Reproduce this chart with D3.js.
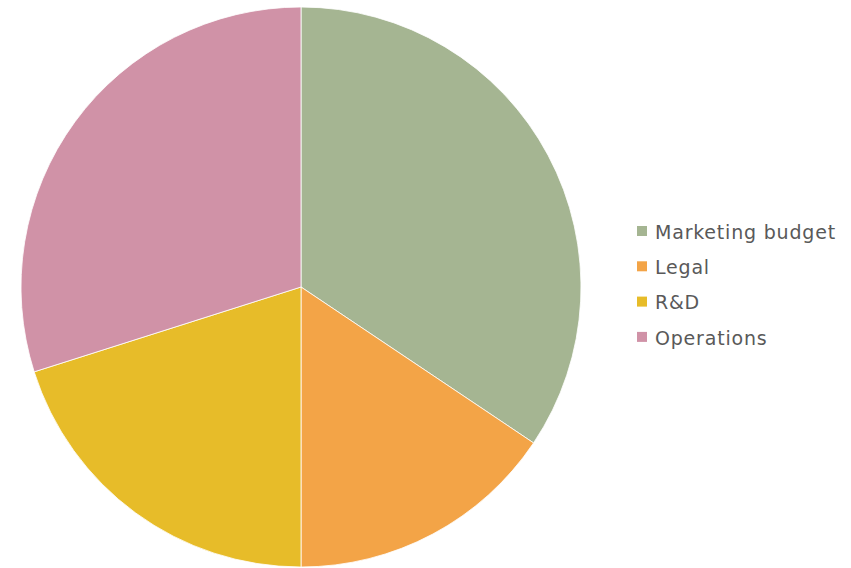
<!DOCTYPE html>
<html>
<head>
<meta charset="utf-8">
<script src="https://cdn.jsdelivr.net/npm/d3@7"></script>
<style>
  html, body { margin: 0; padding: 0; background: #fff; }
  svg { display: block; }
</style>
</head>
<body>
<svg id="chart" width="851" height="568"></svg>
<script>
// Budget split by department (percent)
const categories = ["Marketing budget", "Legal", "R&D", "Operations"];
const values = [34.4, 15.6, 20.1, 29.9];
const colors = ["#A5B592", "#F3A447", "#E7BC29", "#D092A7"];

const svg = d3.select("#chart");
const cx = 301, cy = 287, radius = 280;

const data = categories.map((c, i) => ({ name: c, value: values[i], color: colors[i] }));

const pie = d3.pie().value(d => d.value).sort(null);
const arc = d3.arc().innerRadius(0).outerRadius(radius);

svg.append("g")
  .attr("transform", `translate(${cx},${cy})`)
  .selectAll("path")
  .data(pie(data))
  .join("path")
  .attr("d", arc)
  .attr("fill", d => d.data.color)
  .attr("stroke", "#ffffff")
  .attr("stroke-width", 0.8);

// Legend
const legend = svg.append("g").attr("transform", "translate(637,231)");
const rowGap = 35.3;
const items = legend.selectAll("g")
  .data(data)
  .join("g")
  .attr("transform", (d, i) => `translate(0,${i * rowGap})`);

items.append("rect")
  .attr("x", 0).attr("y", -5)
  .attr("width", 10).attr("height", 10)
  .attr("fill", d => d.color);

items.append("text")
  .attr("x", 18).attr("y", 0)
  .attr("dy", "0.4em")
  .attr("fill", "#595959")
  .style("font-family", "'DejaVu Sans', sans-serif")
  .style("font-size", "19px")
  .style("letter-spacing", "0.8px")
  .text(d => d.name);
</script>
</body>
</html>
